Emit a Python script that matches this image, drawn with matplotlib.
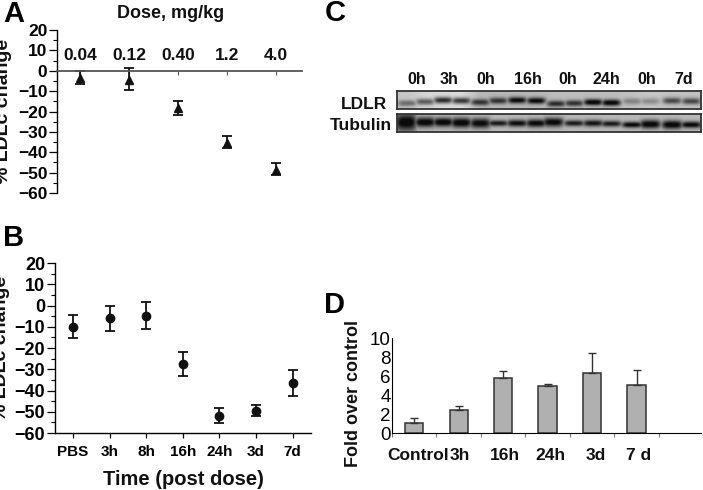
import numpy as np
import matplotlib
matplotlib.use("Agg")
import matplotlib.pyplot as plt

W, H = 703, 490
plt.rcParams['font.family'] = ['Liberation Sans', 'DejaVu Sans']
plt.rcParams['font.weight'] = 'bold'
plt.rcParams['axes.labelweight'] = 'bold'

# Panel A
dose_labels = ['0.04', '0.12', '0.40', '1.2', '4.0']
dose_mean = [-3.5, -4.5, -18.5, -35.5, -48.5]
dose_hi = [-0.3, 1.2, -15, -32, -45.5]
dose_lo = [-6.3, -9.5, -21.5, -38, -51]
# Panel B
time_labels = ['PBS', '3h', '8h', '16h', '24h', '3d', '7d']
time_mean = [-10, -6, -5, -27.5, -52, -49.5, -36.5]
time_hi = [-4.5, 0, 1.5, -22, -48, -47, -30.5]
time_lo = [-15.5, -12, -11, -33, -55.5, -52, -42.5]
# Panel C
blot_times = ['0h', '3h', '0h', '16h', '0h', '24h', '0h', '7d']
blot_time_px = [417, 449, 486, 528, 568, 606, 647, 684]
ldlr_lane_px = [407, 425, 443, 461, 480, 498, 517, 536, 556, 574, 593, 611, 632, 650, 672, 691]
ldlr_band = [0.45, 0.55, 0.78, 0.72, 0.72, 0.72, 0.95, 0.95, 0.75, 0.72, 1.0, 1.0, 0.32, 0.28, 0.62, 0.62]
ldlr_row = [103.0, 101.5, 100.0, 100.5, 102.0, 100.5, 100.0, 100.5, 103.5, 103.0, 102.0, 102.5, 101.0, 101.0, 100.5, 101.0]
ldlr_bg = [0.78, 0.84, 0.86, 0.87, 0.72, 0.72, 0.72, 0.72, 0.74, 0.74, 0.74, 0.74, 0.76, 0.78, 0.76, 0.76]
tub_lane_px = [406, 425, 443, 461, 480, 498, 517, 536, 553, 574, 593, 611, 632, 650, 672, 691]
tub_band = [1.0, 1.0, 1.0, 1.0, 0.95, 0.85, 0.92, 0.95, 0.97, 0.85, 0.88, 0.85, 0.95, 1.0, 1.0, 0.95]
tub_row = [122, 122, 122, 122.5, 123, 123, 123, 123, 122, 123, 123, 123.5, 124.5, 124, 124.5, 124.5]
tub_thick = [9, 5, 4.5, 5, 5, 3, 3.5, 4, 4.5, 3, 3.3, 3, 3, 4.3, 4.3, 3.3]
# Panel D
bar_labels = ['Control', '3h', '16h', '24h', '3d', '7 d']
bar_values = [1.05, 2.4, 5.8, 5.0, 6.35, 5.1]
bar_err = [0.5, 0.4, 0.7, 0.2, 2.1, 1.55]


def axpx(x0, y0, x1, y1):
    """Axes from pixel box (y measured from the top)."""
    return fig.add_axes([x0 / W, 1 - y1 / H, (x1 - x0) / W, (y1 - y0) / H])


fig = plt.figure(figsize=(W / 100, H / 100), dpi=100, facecolor='white')
BLK = '#111111'

# ---------- A ----------
a = axpx(57, 30, 302, 193)
a.set_xlim(-0.47, 4.53)
a.set_ylim(-60, 20)
a.patch.set_alpha(0)
for s in ['top', 'right']:
    a.spines[s].set_visible(False)
a.spines['left'].set_linewidth(1.0)
a.spines['bottom'].set_position(('data', 0))
a.spines['bottom'].set_linewidth(1.3)
a.spines['bottom'].set_color('#555555')
xa = np.arange(len(dose_labels))
m = np.array(dose_mean)
a.errorbar(xa, m, yerr=[m - np.array(dose_lo), np.array(dose_hi) - m], fmt='^', ms=5.5,
           color=BLK, ecolor=BLK, elinewidth=1.3, capsize=3.8, capthick=1.3)
a.set_xticks(xa)
a.set_xticklabels([])
a.tick_params(axis='x', direction='out', length=3, width=0.8, color='#555555')
a.set_yticks(range(-60, 21, 10))
a.set_yticks(range(-55, 20, 10), minor=True)
a.tick_params(axis='y', which='major', length=6, width=0.9, pad=1)
a.tick_params(axis='y', which='minor', length=3, width=0.8)
for t in a.get_yticklabels():
    t.set_fontsize(12.5)
    t.set_fontweight('bold')
for x, t in zip(xa, dose_labels):
    a.text(x, 3.7, t, ha='center', va='bottom', fontsize=12.5, color=BLK)
a.set_ylabel('% LDLc change', fontsize=14, color=BLK)
a.yaxis.set_label_coords(-45 / 245, 0.5)

# ---------- B ----------
b = axpx(55, 263, 311, 433)
b.set_xlim(-0.49, 6.5)
b.set_ylim(-60, 20)
for s in ['top', 'right']:
    b.spines[s].set_visible(False)
b.spines['left'].set_linewidth(1.0)
b.spines['bottom'].set_linewidth(1.0)
xb = np.arange(len(time_labels))
m = np.array(time_mean)
b.errorbar(xb, m, yerr=[m - np.array(time_lo), np.array(time_hi) - m], fmt='o', ms=6,
           color=BLK, ecolor=BLK, elinewidth=1.3, capsize=3.8, capthick=1.3)
b.set_xticks(xb)
b.set_xticklabels(time_labels, fontsize=11)
b.tick_params(axis='x', direction='out', length=3.5, width=0.9, pad=5)
b.set_yticks(range(-60, 21, 10))
b.set_yticks(range(-55, 20, 10), minor=True)
b.tick_params(axis='y', which='major', length=6, width=0.9, pad=1)
b.tick_params(axis='y', which='minor', length=3, width=0.8)
for t in b.get_yticklabels():
    t.set_fontsize(13)
    t.set_fontweight('bold')
b.set_ylabel('% LDLc change', fontsize=14, color=BLK)
b.yaxis.set_label_coords(-45 / 256, 0.5)
b.set_xlabel('Time (post dose)', fontsize=14.5, labelpad=8, color=BLK)

# ---------- C ----------
def blot(y0, y1, lanes, rows, vals, thick, bgs, sx, ax):
    ys, xs = np.mgrid[y0:y1:0.5, 397:701:0.5]
    img = np.zeros_like(xs)
    bg_img = np.interp(xs, lanes, bgs)
    for lx, ly, v, th in zip(lanes, rows, vals, thick):
        img = np.maximum(img, v * np.exp(-((xs - lx) / sx) ** 4 - ((ys - ly) / th) ** 2))
    img = bg_img - (bg_img - 0.04) * np.clip(img * 1.1, 0, 1)
    ax.imshow(img, cmap='gray', vmin=0, vmax=1, extent=(397, 701, y1, y0), aspect='auto')
    ax.set_xticks([])
    ax.set_yticks([])
    for s in ax.spines.values():
        s.set_linewidth(1.3)
        s.set_color('#333333')


c1 = axpx(397, 91, 701, 109)
blot(91, 109, ldlr_lane_px, ldlr_row, ldlr_band, [3.2] * len(ldlr_band), ldlr_bg, 9.5, c1)
c2 = axpx(397, 114, 701, 132)
blot(114, 132, tub_lane_px, tub_row, tub_band, tub_thick, [0.72] * len(tub_band), 10.5, c2)
for px, t in zip(blot_time_px, blot_times):
    fig.text(px / W, 1 - 80 / H, t, ha='center', va='center', fontsize=11.5, color=BLK)
fig.text(364 / W, 1 - 104.5 / H, 'LDLR', ha='center', va='center', fontsize=12.5, color=BLK)
fig.text(361 / W, 1 - 125 / H, 'Tubulin', ha='center', va='center', fontsize=12.5, color=BLK)

# ---------- D ----------
d = axpx(392, 338, 701, 433)
d.set_xlim(-0.5, 6.45)
d.set_ylim(0, 10)
for s in ['top', 'right']:
    d.spines[s].set_visible(False)
d.spines['left'].set_linewidth(0.8)
d.spines['bottom'].set_linewidth(0.8)
xd = np.arange(len(bar_labels))
d.bar(xd, bar_values, width=0.41, color='#b0b0b0', edgecolor='#333333', linewidth=1.1)
d.errorbar(xd, bar_values, yerr=[np.zeros(len(xd)), bar_err], fmt='none', ecolor='#333333',
           elinewidth=1.0, capsize=3, capthick=1.0)
d.set_xticks(np.arange(0, 7) - 0.5)
d.set_xticklabels([])
d.tick_params(axis='x', direction='out', length=3, width=0.8, color='#777777')
d.set_yticks(range(0, 11, 2))
d.tick_params(axis='y', length=0, pad=1)
for t in d.get_yticklabels():
    t.set_fontsize(13.5)
    t.set_fontweight('normal')
d.set_ylabel('Fold over control', fontsize=13, color=BLK)
d.yaxis.set_label_coords(-30 / 309, 0.42)
bar_label_px = [418, 460, 505, 550, 596, 639]
for px, t in zip(bar_label_px, bar_labels):
    x = d.transData.inverted().transform((px * 1.0, 0))[0]
    d.text(x, -2.4, t, ha='center', va='center', fontsize=12.5, color=BLK)

# panel letters
for t, x, y in [('A', 14, 14), ('B', 14, 238), ('C', 335, 13), ('D', 335, 305)]:
    fig.text(x / W, 1 - y / H, t, ha='center', va='center', fontsize=21, color='black')
fig.text(171 / W, 1 - 13.5 / H, 'Dose, mg/kg', ha='center', va='center', fontsize=13, color=BLK)

fig.savefig('out.png', dpi=100)
